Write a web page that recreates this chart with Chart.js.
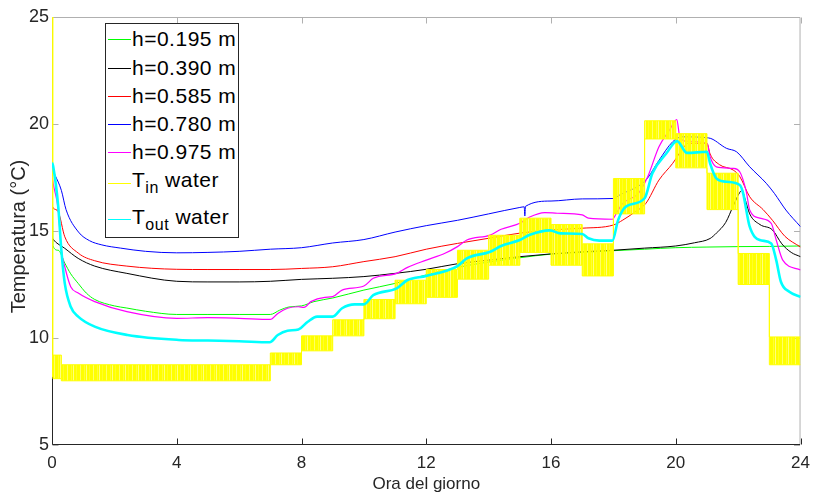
<!DOCTYPE html>
<html>
<head>
<meta charset="utf-8">
<script src="https://cdn.jsdelivr.net/npm/chart.js@4.4.1/dist/chart.umd.min.js"></script>
<style>
    html, body { margin: 0; padding: 0; background: #fff; }
    #wrap { position: relative; width: 818px; height: 493px; }
    #legend {
        position: absolute; left: 105px; top: 23px; width: 134px; height: 215px;
        box-sizing: border-box; border: 1px solid #262626; background: #fff;
        font-family: "Liberation Sans", Arial, sans-serif; font-size: 21px; letter-spacing: 0.5px; color: #000;
    }
    .row { position: absolute; left: 0; height: 24px; line-height: 24px; white-space: nowrap; }
    .row i { position: absolute; left: 2px; width: 23px; height: 0; border-top: 1px solid; }
    .row span { position: absolute; left: 26px; top: 0; }
    .row sub { font-size: 16px; vertical-align: -6px; line-height: 0; }
</style>
</head>
<body>
<div id="wrap">
    <canvas id="chart" width="818" height="493"></canvas>
    <div id="legend"></div>
</div>
<script>
// h=0.195 m
const t195 = [0, 0.03, 0.2, 0.41, 0.6, 0.84, 1.1, 1.37, 2, 2.4, 3, 4, 5, 6, 7, 7.3, 7.6, 8, 8.4, 9, 10, 11, 12, 13, 14, 15, 16, 17, 18, 19, 20, 21, 22, 23, 24];
const v195 = [21.9, 14.3, 14.1, 13.5, 13.0, 12.55, 12.1, 11.8, 11.5, 11.4, 11.25, 11.1, 11.1, 11.1, 11.1, 11.3, 11.45, 11.5, 11.7, 11.87, 12.24, 12.55, 12.95, 13.3, 13.55, 13.75, 13.92, 14.0, 14.08, 14.15, 14.22, 14.25, 14.27, 14.28, 14.3];

// h=0.390 m
const t390 = [0, 0.04, 0.41, 0.84, 1.37, 2.4, 4, 5, 6, 7, 8, 9, 10, 11, 12, 13, 14, 15, 16, 17, 18, 19, 20, 20.6, 21.1, 21.3, 21.6, 21.85, 22.05, 22.12, 22.22, 22.37, 22.7, 23.1, 23.4, 23.7, 24];
const v390 = [14.7, 14.6, 14.19, 13.72, 13.36, 13.02, 12.65, 12.62, 12.62, 12.65, 12.74, 12.79, 12.87, 13.02, 13.21, 13.47, 13.64, 13.8, 13.93, 14.03, 14.1, 14.2, 14.3, 14.45, 14.65, 14.9, 15.4, 16.2, 16.8, 16.9, 16.5, 15.8, 15.3, 15.05, 14.4, 14.0, 13.8];

// h=0.585 m
const t585 = [0, 0.04, 0.2, 0.41, 0.84, 1.37, 2.4, 4, 5, 6, 7, 8, 9, 10, 11, 12, 13, 14, 15, 16, 17, 18, 18.3, 18.7, 19.04, 19.46, 19.9, 20.2, 20.4, 21, 21.1, 21.4, 21.84, 22.05, 22.37, 22.8, 23.1, 23.5, 24];
const v585 = [16.2, 16.07, 15.9, 14.73, 13.97, 13.61, 13.36, 13.21, 13.2, 13.2, 13.2, 13.25, 13.33, 13.57, 13.8, 14.15, 14.42, 14.66, 14.9, 15.05, 15.13, 15.28, 15.51, 15.9, 16.29, 17.38, 18.16, 18.8, 19.1, 19.1, 18.6, 18.1, 17.85, 17.55, 16.6, 16.0, 15.5, 14.75, 14.25];

// h=0.780 m
const t780 = [0, 0.1, 0.3, 0.45, 0.85, 1.2, 1.6, 2.2, 3, 4, 5, 6, 7, 8, 9, 10, 11, 12, 13, 14, 15, 15.14, 15.16, 15.18, 16, 17, 18, 18.2, 19.04, 19.46, 19.9, 20.2, 21.05, 21.63, 21.95, 22.37, 22.9, 23.16, 23.53, 24];
const v780 = [17.9, 17.6, 16.9, 16.0, 14.95, 14.55, 14.35, 14.2, 14.05, 13.98, 14.0, 14.05, 14.15, 14.22, 14.44, 14.6, 14.95, 15.25, 15.5, 15.8, 16.1, 16.13, 15.7, 16.15, 16.4, 16.5, 16.52, 16.68, 17.38, 18.3, 19.17, 19.4, 19.35, 18.86, 18.7, 18.0, 17.23, 16.76, 15.98, 15.2];

// h=0.975 m
const t975 = [0, 0.04, 0.2, 0.3, 0.41, 0.6, 0.84, 1.37, 2.4, 4, 5, 6, 7, 7.24, 7.55, 7.9, 8.08, 8.3, 8.75, 9.0, 9.3, 10, 10.3, 11.05, 11.4, 12, 12.6, 13, 13.3, 14.05, 14.4, 15, 15.3, 15.8, 16.2, 17, 17.2, 17.97, 18.1, 18.3, 18.8, 19.1, 19.46, 19.8, 20.03, 20.13, 20.3, 21, 21.1, 21.3, 21.84, 22.05, 22.26, 22.37, 22.69, 23.06, 23.22, 23.43, 24];
const v975 = [17.6, 17.2, 16.0, 14.1, 13.33, 12.4, 12.1, 11.7, 11.23, 10.92, 10.95, 10.92, 10.87, 11.15, 11.39, 11.46, 11.43, 11.7, 11.9, 11.93, 12.24, 12.43, 12.79, 13.02, 13.3, 13.64, 13.96, 14.27, 14.58, 14.81, 15.08, 15.36, 15.64, 15.86, 15.83, 15.75, 15.6, 15.55, 15.84, 16.29, 16.76, 17.54, 18.94, 19.72, 20.2, 19.4, 19.2, 19.1, 18.47, 18.0, 17.93, 17.77, 16.84, 15.98, 15.6, 15.36, 14.58, 13.64, 13.18];

// T in water: noisy steps, kept as low / high edge of each step
const tinStart = [0, 0.03, 0.3, 7, 8, 9, 10, 11, 12, 13, 14, 15, 16, 17, 18, 19, 20, 21, 22, 23, 24];
const tinLow = [8.2, 8.1, 8.0, 8.75, 9.4, 10.1, 10.9, 11.6, 11.9, 12.75, 13.4, 14.0, 13.4, 12.9, 15.8, 19.3, 17.95, 16.0, 12.5, 8.75, 8.75];
const tinHigh = [25, 9.2, 8.75, 9.3, 10.1, 10.85, 11.8, 12.7, 13.2, 14.1, 14.8, 15.6, 15.3, 14.4, 17.45, 20.15, 19.55, 17.7, 13.95, 10.05, 10.05];

// T out water
const tOut = [0, 0.04, 0.2, 0.3, 0.41, 0.6, 0.84, 1.37, 2.42, 4.06, 5, 6, 6.98, 7.24, 7.55, 7.9, 8.2, 8.5, 9.0, 9.3, 9.7, 10, 10.3, 11.05, 11.4, 12, 13, 13.3, 14.05, 14.4, 15, 15.3, 15.96, 16.3, 17, 17.2, 17.55, 17.97, 18.15, 18.4, 19.0, 19.25, 19.7, 20.04, 20.36, 21, 21.1, 21.3, 21.63, 22.05, 22.16, 22.26, 22.37, 22.69, 23.06, 23.22, 23.37, 23.64, 24];
const vOut = [18.2, 18.0, 16.14, 14.1, 12.55, 11.46, 11.0, 10.53, 10.14, 9.91, 9.88, 9.85, 9.8, 10.14, 10.34, 10.4, 10.76, 11.0, 11.0, 11.39, 11.57, 11.57, 12.0, 12.32, 12.71, 12.9, 13.36, 13.72, 14.03, 14.3, 14.58, 14.81, 15.03, 14.89, 14.86, 14.66, 14.55, 14.55, 15.51, 16.14, 16.53, 17.7, 18.63, 19.2, 18.65, 18.7, 18.16, 17.46, 17.3, 17.15, 16.76, 15.98, 15.2, 14.58, 14.42, 13.64, 12.63, 12.16, 11.92];

const xTicks = [0, 4, 8, 12, 16, 20, 24];
const yTicks = [5, 10, 15, 20, 25];

const legendLabels = ['h=0.195 m', 'h=0.390 m', 'h=0.585 m', 'h=0.780 m', 'h=0.975 m', 'T<sub>in</sub> water', 'T<sub>out</sub> water'];
const legendColors = ['#00ff00', '#000000', '#ff0000', '#0000ff', '#ff00ff', '#ffff00', '#00ffff'];

const FONT = '"Liberation Sans", Arial, sans-serif';

function pts(ts, vs) {
    return ts.map((t, i) => ({ x: t, y: vs[i] }));
}

function line(ts, vs, color, width, order) {
    return {
        data: pts(ts, vs),
        borderColor: color,
        borderWidth: width,
        pointRadius: 0,
        cubicInterpolationMode: 'monotone',
        fill: false,
        order: order
    };
}

// Fill a righe verticali irregolari: imita il rumore fitto del segnale in ingresso
function noisePattern(ctx) {
    const alphas = [1, 1, 0.6, 1, 1, 1, 0.8, 1, 0.5, 1, 1, 0.85, 1];
    const c = document.createElement('canvas');
    c.width = alphas.length;
    c.height = 1;
    const p = c.getContext('2d');
    alphas.forEach((a, i) => {
        p.fillStyle = `rgba(255,255,0,${a})`;
        p.fillRect(i, 0, 1, 1);
    });
    return ctx.createPattern(c, 'repeat');
}

// Legenda dentro il grafico (HTML per i pedici)
function buildLegend() {
    const box = document.getElementById('legend');
    const rowTop = [3, 32, 60, 88, 116, 144, 181];
    const lineOff = [12, 12, 12, 12, 12, 15, 14];
    legendLabels.forEach((label, i) => {
        const row = document.createElement('div');
        row.className = 'row';
        row.style.top = rowTop[i] + 'px';
        row.innerHTML = `<i style="top:${lineOff[i]}px;border-color:${legendColors[i]}"></i><span>${label}</span>`;
        box.appendChild(row);
    });
}

// Cornice e tacche interne stile MATLAB
const framePlugin = {
    id: 'frame',
    beforeDatasetsDraw(chart) {
        const { ctx, chartArea: a, scales: { x, y } } = chart;
        const L = a.left + 0.5, R = a.right - 0.5, T = a.top + 0.5, B = a.bottom - 0.5;
        ctx.save();
        ctx.lineWidth = 1;
        ctx.strokeStyle = '#b0b0b0';
        ctx.beginPath();
        ctx.moveTo(L, T); ctx.lineTo(R, T); ctx.lineTo(R, B);
        x.ticks.forEach(t => {
            const px = Math.round(x.getPixelForValue(t.value)) + 0.5;
            ctx.moveTo(px, T); ctx.lineTo(px, T + 6);
        });
        y.ticks.forEach(t => {
            const py = Math.round(y.getPixelForValue(t.value)) + 0.5;
            ctx.moveTo(R, py); ctx.lineTo(R - 6, py);
            ctx.moveTo(L, py); ctx.lineTo(L + 6, py);
        });
        ctx.stroke();
        ctx.strokeStyle = '#262626';
        ctx.beginPath();
        ctx.moveTo(L, T); ctx.lineTo(L, B); ctx.lineTo(R, B);
        x.ticks.forEach(t => {
            const px = Math.round(x.getPixelForValue(t.value)) + 0.5;
            ctx.moveTo(px, B); ctx.lineTo(px, B - 6);
        });
        ctx.stroke();
        ctx.restore();
    }
};

function createChart() {
    const ctx = document.getElementById('chart').getContext('2d');
    const tinStep = {
        borderColor: '#ffff00',
        borderWidth: 1,
        pointRadius: 0,
        stepped: 'before',
        order: 1
    };
    return new Chart(ctx, {
        type: 'line',
        data: {
            datasets: [
                line(t195, v195, '#00ff00', 1, 6),
                line(t390, v390, '#000000', 1, 5),
                line(t585, v585, '#ff0000', 1, 4),
                line(t780, v780, '#0000ff', 1, 3),
                line(t975, v975, '#ff00ff', 1.2, 2),
                Object.assign({ data: pts(tinStart, tinHigh), fill: '+1', backgroundColor: noisePattern(ctx) }, tinStep),
                Object.assign({ data: pts(tinStart, tinLow), fill: false }, tinStep),
                line(tOut, vOut, '#00ffff', 2.6, 0)
            ]
        },
        options: {
            responsive: false,
            animation: false,
            devicePixelRatio: 1,
            layout: { padding: { top: 17, right: 10, left: 0, bottom: 0 } },
            plugins: {
                legend: { display: false },
                tooltip: { enabled: false }
            },
            scales: {
                x: {
                    type: 'linear',
                    min: 0,
                    max: 24,
                    afterBuildTicks: s => { s.ticks = xTicks.map(v => ({ value: v })); },
                    afterFit: s => { s.height = 48; },
                    grid: { display: false, drawTicks: false },
                    border: { display: false },
                    ticks: { color: '#262626', padding: 8, font: { family: FONT, size: 17 }, maxRotation: 0 },
                    title: {
                        display: true,
                        text: 'Ora del giorno',
                        color: '#262626',
                        padding: { top: 0, bottom: -2 },
                        font: { family: FONT, size: 17 }
                    }
                },
                y: {
                    type: 'linear',
                    min: 5,
                    max: 25,
                    afterBuildTicks: s => { s.ticks = yTicks.map(v => ({ value: v })); },
                    afterFit: s => { s.width = 52; },
                    grid: { display: false, drawTicks: false },
                    border: { display: false },
                    ticks: { color: '#262626', padding: 3, font: { family: FONT, size: 18 } },
                    title: {
                        display: true,
                        text: 'Temperatura (°C)\u00a0\u00a0',
                        color: '#262626',
                        padding: { top: 7, bottom: 0 },
                        font: { family: FONT, size: 20 }
                    }
                }
            }
        },
        plugins: [framePlugin]
    });
}

document.addEventListener('DOMContentLoaded', () => {
    createChart();
    buildLegend();
});
</script>
</body>
</html>
